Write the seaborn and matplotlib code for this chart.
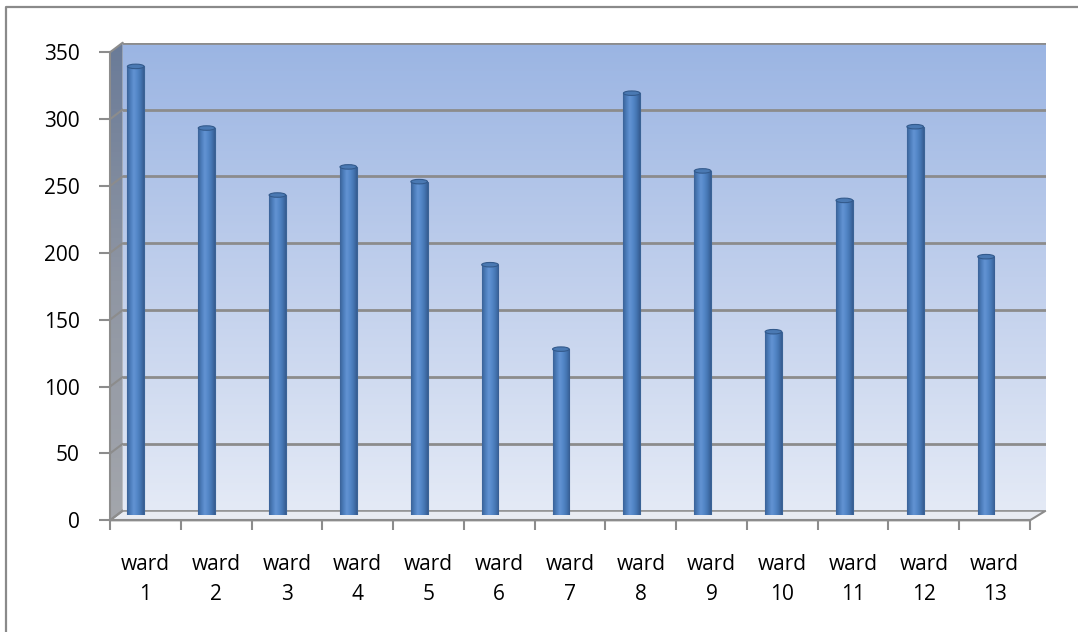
import numpy as np
import pandas as pd
import matplotlib

matplotlib.use("Agg")
import matplotlib.pyplot as plt
import seaborn as sns
from matplotlib.colors import LinearSegmentedColormap
from matplotlib.patches import Ellipse, Polygon

wards = [f"ward\n{i}" for i in range(1, 14)]
counts = [335, 289, 239, 260, 249, 187, 124, 315, 257, 137, 235, 290, 193]
y_ticks = [0, 50, 100, 150, 200, 250, 300, 350]

W, H = 1078, 632
GRID = "#8c8c8c"


def fx(x):
    return x / W


def fy(y):
    return 1 - y / H


def box(left, top, right, bottom):
    return [fx(left), fy(bottom), fx(right) - fx(left), fy(top) - fy(bottom)]


sns.set_theme(style="white")
plt.rcParams["font.family"] = ["Open Sans", "DejaVu Sans"]
plt.rcParams["xtick.labelcolor"] = "black"
plt.rcParams["ytick.labelcolor"] = "black"

fig = plt.figure(figsize=(W / 100, H / 100), dpi=100)

# decoration layer in pixel coordinates
deco = fig.add_axes([0, 0, 1, 1], zorder=0)
deco.set_xlim(0, W)
deco.set_ylim(H, 0)
deco.axis("off")
deco.plot([6, 6, W], [H, 6.5, 6.5], color="#8a8a8a", lw=1.6)

front_l, front_r, front_t, front_b = 110, 1030, 52.3, 520.3
dx, dy = 12.7, -9.6

side = Polygon([(front_l, front_b), (front_l, front_t), (front_l + dx, front_t + dy),
                (front_l + dx, front_b + dy)], closed=True, facecolor="none", edgecolor="none")
deco.add_patch(side)
side_cmap = LinearSegmentedColormap.from_list("side", ["#6a7b98", "#8f96a3", "#a3a6ac"])
img = deco.imshow(np.linspace(0, 1, 100).reshape(-1, 1), cmap=side_cmap, aspect="auto",
                  extent=(front_l, front_l + dx, front_b, front_t + dy))
img.set_clip_path(side)

floor = Polygon([(front_l, front_b), (front_l + dx, front_b + dy), (1045.7, front_b + dy),
                 (front_r, front_b)], closed=True, facecolor="#e9ecf2", edgecolor=GRID, lw=1.5)
deco.add_patch(floor)

# back wall
back = fig.add_axes(box(front_l + dx, front_t + dy, 1045.7, front_b + dy), zorder=1)
wall_cmap = LinearSegmentedColormap.from_list("wall", ["#9bb5e3", "#c0cfec", "#e4eaf6"])
back.imshow(np.linspace(0, 1, 200).reshape(-1, 1), cmap=wall_cmap, aspect="auto",
            extent=(0, 1, 0, 350), origin="upper")
back.set_xlim(0, 1)
back.set_ylim(0, 350)
for t in y_ticks:
    back.axhline(t, color=GRID, lw=2, zorder=2)
back.axis("off")

for t in y_ticks:
    yp = front_b - (front_b - front_t) * t / 350
    deco.plot([front_l, front_l + dx], [yp, yp + dy], color=GRID, lw=1.5)

# front axes with ticks and labels
ax = fig.add_axes(box(front_l, front_t, front_r, front_b), zorder=2)
ax.patch.set_alpha(0)
ax.set_xlim(-0.5, len(wards) - 0.5)
ax.set_ylim(0, 350)
ax.set_yticks(y_ticks)
ax.set_xticks(np.arange(-0.5, len(wards)), minor=False)
ax.set_xticklabels([])
ax.set_xticks(np.arange(len(wards)), minor=True)
ax.set_xticklabels(wards, minor=True, fontsize=15, linespacing=1.6)
ax.tick_params(axis="x", which="major", length=7, width=1.5, color=GRID, direction="out", bottom=True)
ax.tick_params(axis="x", which="minor", length=0, pad=24)
ax.tick_params(axis="y", length=8, width=1.5, color=GRID, direction="out", left=True,
               labelsize=15, pad=14)
for name in ["top", "right"]:
    ax.spines[name].set_visible(False)
for name in ["left", "bottom"]:
    ax.spines[name].set_color(GRID)
    ax.spines[name].set_linewidth(1.5)
ax.grid(False)

# cylinder columns
axb = fig.add_axes(box(100.3, 515.3 - 469, 100.3 + 921.2, 515.3), zorder=3)
axb.patch.set_alpha(0)
df = pd.DataFrame({"ward": wards, "count": counts})
sns.barplot(data=df, x="ward", y="count", color="#4f81bd", width=0.235, saturation=1,
            edgecolor="#3a6396", linewidth=0.8, ax=axb)
axb.set_xlim(-0.5, len(wards) - 0.5)
axb.set_ylim(0, 350)
axb.axis("off")

cyl_cmap = LinearSegmentedColormap.from_list(
    "cyl", ["#3b6399", "#4c7dbb", "#6293d3", "#5487c8", "#4576b3", "#375d92"])
grad = np.linspace(0, 1, 60).reshape(1, -1)
cap_h = 4.5 / 1.34
for bar in axb.patches:
    x0, w, h = bar.get_x(), bar.get_width(), bar.get_height()
    im = axb.imshow(grad, cmap=cyl_cmap, aspect="auto", extent=(x0, x0 + w, 0, h), zorder=3)
    im.set_clip_path(bar)
    axb.add_patch(Ellipse((x0 + w / 2, 0), w, cap_h, facecolor="#4677b4", edgecolor="none", zorder=2.5))
    axb.add_patch(Ellipse((x0 + w / 2, h), w, cap_h, facecolor="#4a79b3", edgecolor="#335a8c",
                          lw=0.8, zorder=4))
axb.set_xlim(-0.5, len(wards) - 0.5)
axb.set_ylim(0, 350)

fig.savefig("out.png", dpi=100)
